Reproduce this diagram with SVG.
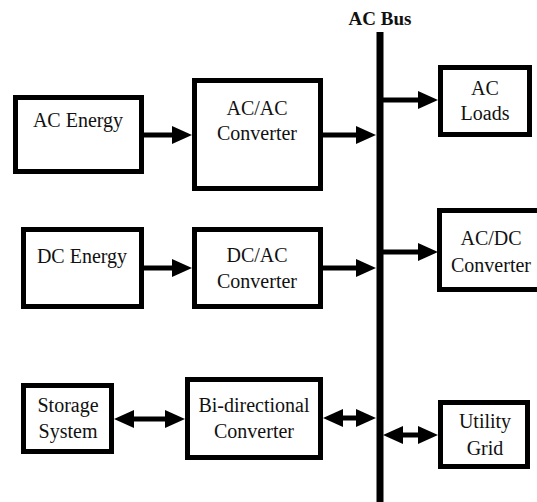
<svg xmlns="http://www.w3.org/2000/svg" width="537" height="502" viewBox="0 0 537 502">
<style>
.box{fill:#fff;stroke:#000;stroke-width:5}
.t{font-family:'Liberation Serif','Times New Roman','DejaVu Serif',serif;font-size:20px;fill:#111;text-anchor:middle}
.c{stroke:#000;stroke-width:5;fill:none}
</style>
<defs>
<marker id="ah" markerUnits="userSpaceOnUse" markerWidth="20" markerHeight="18" refX="8" refY="9" orient="auto-start-reverse">
<path d="M0,0 L20,9 L0,18 z" fill="#000"/>
</marker>
</defs>
<rect width="537" height="502" fill="#fff"/>
<g id="bus">
<line x1="380" y1="32" x2="380" y2="502" stroke="#000" stroke-width="7"/>
<text x="380" y="25" class="t" style="font-weight:bold;font-size:19px">AC Bus</text>
</g>
<g id="connectors">
<line class="c" x1="144" y1="135" x2="180" y2="135" marker-end="url(#ah)"/>
<line class="c" x1="323" y1="135" x2="364" y2="135" marker-end="url(#ah)"/>
<line class="c" x1="383" y1="100" x2="426" y2="100" marker-end="url(#ah)"/>
<line class="c" x1="144" y1="268" x2="180" y2="268" marker-end="url(#ah)"/>
<line class="c" x1="323" y1="268" x2="364" y2="268" marker-end="url(#ah)"/>
<line class="c" x1="383" y1="252" x2="426" y2="252" marker-end="url(#ah)"/>
<line class="c" x1="126" y1="419" x2="173" y2="419" marker-start="url(#ah)" marker-end="url(#ah)"/>
<line class="c" x1="335" y1="418" x2="364" y2="418" marker-start="url(#ah)" marker-end="url(#ah)"/>
<line class="c" x1="395" y1="435" x2="426" y2="435" marker-start="url(#ah)" marker-end="url(#ah)"/>
</g>
<g id="ac-energy">
<rect class="box" x="15.5" y="97.5" width="126" height="74"/>
<text class="t" x="78" y="127">AC Energy</text>
</g>
<g id="acac-converter">
<rect class="box" x="194.5" y="80.5" width="126" height="108"/>
<text class="t" x="257" y="115">AC/AC</text>
<text class="t" x="257" y="140">Converter</text>
</g>
<g id="ac-loads">
<rect class="box" x="440.5" y="67.5" width="89" height="67"/>
<text class="t" x="485" y="95">AC</text>
<text class="t" x="485" y="120">Loads</text>
</g>
<g id="dc-energy">
<rect class="box" x="23.5" y="229.5" width="118" height="77"/>
<text class="t" x="82" y="263">DC Energy</text>
</g>
<g id="dcac-converter">
<rect class="box" x="194.5" y="229.5" width="126" height="77"/>
<text class="t" x="257" y="262">DC/AC</text>
<text class="t" x="257" y="288">Converter</text>
</g>
<g id="acdc-converter">
<rect class="box" x="439.5" y="210.5" width="102" height="79"/>
<text class="t" x="491" y="245">AC/DC</text>
<text class="t" x="491" y="272">Converter</text>
</g>
<g id="storage-system">
<rect class="box" x="23.5" y="385.5" width="88" height="66"/>
<text class="t" x="68" y="412">Storage</text>
<text class="t" x="68" y="438">System</text>
</g>
<g id="bidirectional-converter">
<rect class="box" x="187.5" y="379.5" width="133" height="78"/>
<text class="t" x="254" y="412">Bi-directional</text>
<text class="t" x="254" y="438">Converter</text>
</g>
<g id="utility-grid">
<rect class="box" x="440.5" y="402.5" width="87" height="64"/>
<text class="t" x="485" y="428">Utility</text>
<text class="t" x="485" y="455">Grid</text>
</g>
</svg>
